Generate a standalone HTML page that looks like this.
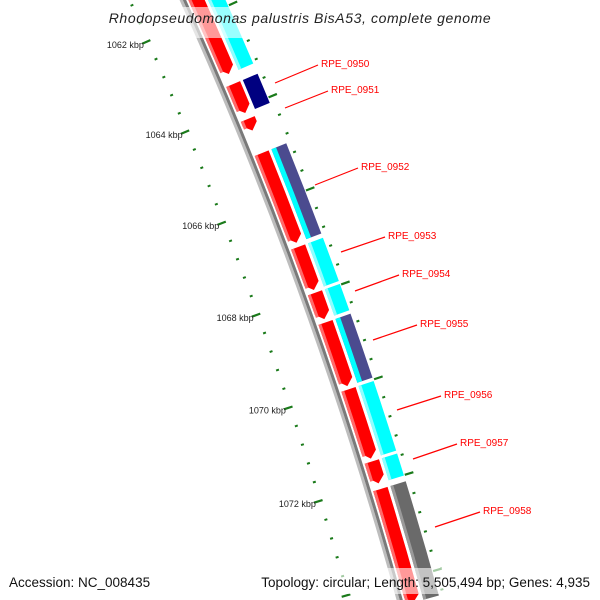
<!DOCTYPE html>
<html><head><meta charset="utf-8"><style>
html,body{margin:0;padding:0;background:#fff;overflow:hidden;}
svg{display:block;font-family:"Liberation Sans",sans-serif;overflow:hidden;}
</style></head><body>
<svg id="map" width="600" height="600" viewBox="0 0 600 600" xmlns="http://www.w3.org/2000/svg">
<g id="ticks"></g>
<g id="backbone"></g>
<g id="genes"></g>
<g id="labels"></g>
<rect x="0" y="7" width="600" height="31" fill="#fff" fill-opacity="0.6"/>
<text x="300" y="23" text-anchor="middle" font-size="14" font-style="italic" fill="#222" letter-spacing="0.6">Rhodopseudomonas palustris BisA53, complete genome</text>
<rect x="0" y="568" width="600" height="26" fill="#fff" fill-opacity="0.6"/>
<text x="9" y="587" font-size="13.5" fill="#111">Accession: NC_008435</text>
<text x="590" y="587" text-anchor="end" font-size="13.5" fill="#111">Topology: circular; Length: 5,505,494 bp; Genes: 4,935</text>
</svg>
<script>
const geneNames = ["", "RPE_0951", "", "RPE_0952", "RPE_0953", "RPE_0954", "RPE_0955", "RPE_0956", "RPE_0957", "RPE_0958"];
const geneStart = [1061.0, 1063.48, 1064.24, 1064.98, 1067.0, 1067.98, 1068.61, 1070.03, 1071.55, 1072.13];
const geneEnd   = [1063.26, 1064.11, 1064.49, 1066.91, 1067.92, 1068.54, 1069.96, 1071.49, 1072.01, 1074.5];
const cogColor  = ["#00ffff", "#000080", "", "#4b4b8f", "#00ffff", "#00ffff", "#4b4b8f", "#00ffff", "#00ffff", "#6a6a6a"];
const tickLabels = [1062, 1064, 1066, 1068, 1070, 1072];
const labelTexts = ["RPE_0950","RPE_0951","RPE_0952","RPE_0953","RPE_0954","RPE_0955","RPE_0956","RPE_0957","RPE_0958"];

const NS="http://www.w3.org/2000/svg";
const CX=-3618, CY=1713, R0=4166, TH0=-0.4178, DTH=0.01192;
function ang(k){return TH0+(k-1062)*DTH;}
function pt(k,r){const a=ang(k);return [CX+r*Math.cos(a),CY+r*Math.sin(a)];}
function f(p){return p[0].toFixed(2)+","+p[1].toFixed(2);}
function sector(k1,k2,r1,r2){
  const a=pt(k1,r1),b=pt(k2,r1),c=pt(k2,r2),d=pt(k1,r2);
  return "M"+f(a)+" A"+r1+","+r1+" 0 0 1 "+f(b)+" L"+f(c)+" A"+r2+","+r2+" 0 0 0 "+f(d)+" Z";
}
function arrow(k1,k2,r1,r2){
  const h=7/(R0*DTH);
  const kb=Math.max(k1,k2-h);
  const a=pt(k1,r1),b=pt(kb,r1),c=pt(k2,(r1+r2)/2),d=pt(kb,r2),e=pt(k1,r2);
  return "M"+f(a)+" A"+r1+","+r1+" 0 0 1 "+f(b)+" L"+f(c)+" L"+f(d)+" A"+r2+","+r2+" 0 0 0 "+f(e)+" Z";
}
function mk(tag,attrs,parent){const el=document.createElementNS(NS,tag);for(const k in attrs)el.setAttribute(k,attrs[k]);parent.appendChild(el);return el;}

const bb=document.getElementById("backbone");
let p=mk("path",{d:sector(1058,1075,R0,R0+3),fill:"#bdbdbd"},bb);


p=mk("path",{d:sector(1058,1075,R0+3,R0+6),fill:"#7a7a7a"},bb);



const tg=document.getElementById("ticks");
for(let i=0;i<=37;i++){
  const k=1060+i*0.4;
  const major=Math.abs((k-1062)/2-Math.round((k-1062)/2))<1e-6;
  const l1=major?pt(k,R0-52):pt(k,R0-47), l2=major?pt(k,R0-43):pt(k,R0-44);
  let t=mk("line",{x1:l1[0],y1:l1[1],x2:l2[0],y2:l2[1],stroke:"#1a7a1a","stroke-width":major?2.2:2},tg);
  
  
  const r1=major?pt(k,R0+43):pt(k,R0+45), r2=major?pt(k,R0+52):pt(k,R0+48);
  t=mk("line",{x1:r1[0],y1:r1[1],x2:r2[0],y2:r2[1],stroke:"#1a7a1a","stroke-width":major?2.2:2},tg);
  
  
}
tickLabels.forEach(v=>{
  const q=pt(v,R0-50);
  const t=mk("text",{x:q[0],y:q[1]+5,"text-anchor":"end","font-size":"9",fill:"#222"},tg);
  t.textContent=v+" kbp";
  
  
});

const gg=document.getElementById("genes");
for(let i=0;i<geneStart.length;i++){
  const s=geneStart[i], e=geneEnd[i];
  let g=mk("path",{d:arrow(s,e,R0+8,R0+23),fill:"#ff0000"},gg);
  
  
  g=mk("path",{d:sector(s,e-4/(R0*DTH),R0+8,R0+11),fill:"#ff6a6a"},gg);
  
  
  const c=cogColor[i];
  if(c){
    g=mk("path",{d:sector(s,e,R0+26,R0+42),fill:c},gg);
    
    
    let hl = c==="#00ffff"?"#8fffff":(c==="#6a6a6a"?"#9a9a9a":(c==="#4b4b8f"?"#00ffff":null));
    if(hl){
      g=mk("path",{d:sector(s,e,R0+26,R0+(c==="#4b4b8f"?31:29)),fill:hl},gg);
      
      
    }
  }
}

const lg=document.getElementById("labels");
const leaders=[[275,83,318,65],[285,108,328,91],[315,185,358,168],[341,252,385,237],[355,291,399,275],[373,340,417,325],[397,410,441,396],[413,459,457,444],[435,527,480,512]];
leaders.forEach((L,i)=>{
  let l=mk("line",{x1:L[0],y1:L[1],x2:L[2],y2:L[3],stroke:"#ff0000","stroke-width":1.2},lg);
  
  
  const t=mk("text",{x:L[2]+3,y:L[3]+2,"font-size":"10",fill:"#ff0000"},lg);
  t.textContent=labelTexts[i];
  
  
});
</script>
</body></html>
